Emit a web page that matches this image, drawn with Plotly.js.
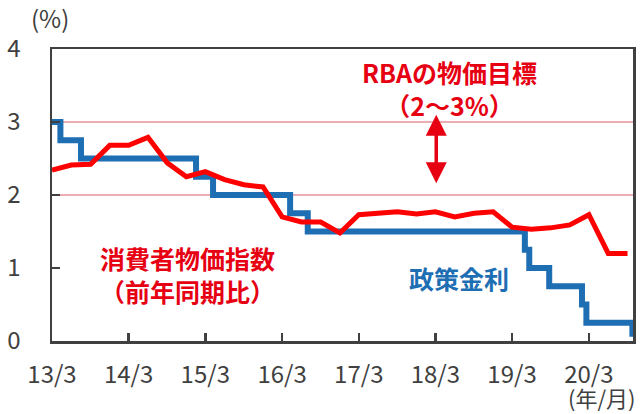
<!DOCTYPE html>
<html>
<head>
<meta charset="utf-8">
<script src="https://cdn.plot.ly/plotly-3.0.1.min.js"></script>
<style>
  html, body { margin: 0; padding: 0; background: #ffffff; }
  #chart { width: 640px; height: 414px; }
</style>
</head>
<body>
<div id="chart"></div>
<script>
// 消費者物価指数（前年同期比, %）四半期
const cpiDates = [
  '2013-03-01', '2013-06-01', '2013-09-01', '2013-12-01',
  '2014-03-01', '2014-06-01', '2014-09-01', '2014-12-01',
  '2015-03-01', '2015-06-01', '2015-09-01', '2015-12-01',
  '2016-03-01', '2016-06-01', '2016-09-01', '2016-12-01',
  '2017-03-01', '2017-06-01', '2017-09-01', '2017-12-01',
  '2018-03-01', '2018-06-01', '2018-09-01', '2018-12-01',
  '2019-03-01', '2019-06-01', '2019-09-01', '2019-12-01',
  '2020-03-01', '2020-06-01', '2020-09-01'
];
const cpiValues = [
  2.34, 2.41, 2.42, 2.68,
  2.68, 2.79, 2.44, 2.25,
  2.32, 2.21, 2.14, 2.11,
  1.70, 1.63, 1.63, 1.48,
  1.73, 1.75, 1.77, 1.74,
  1.77, 1.70, 1.75, 1.77,
  1.56, 1.53, 1.55, 1.59,
  1.73, 1.20, 1.20
];

// 政策金利（%）変更日
const rateDates = [
  '2013-03-01', '2013-04-10', '2013-07-17', '2015-01-16', '2015-04-07',
  '2016-04-08', '2016-07-01', '2019-05-01', '2019-05-22', '2019-08-25',
  '2020-01-28', '2020-02-18', '2020-09-24', '2020-09-27'
];
const rateValues = [
  3.00, 2.75, 2.50, 2.25, 2.00,
  1.75, 1.50, 1.25, 1.00, 0.75,
  0.50, 0.25, 0.10, 0.10
];

// RBAの物価目標レンジ
const targetBand = [2, 3];

const tickDates = ['2013-03-01', '2014-03-01', '2015-03-01', '2016-03-01',
                   '2017-03-01', '2018-03-01', '2019-03-01', '2020-03-01'];
const tickLabels = ['13/3', '14/3', '15/3', '16/3', '17/3', '18/3', '19/3', '20/3'];

const RED = '#ff0000';
const RED_TEXT = '#e60012';
const BLUE = '#1e6eb4';
const AXIS = '#404040';
const FONT = '"Noto Sans CJK JP", "Noto Sans", sans-serif';

const traces = [
  {
    x: rateDates,
    y: rateValues,
    type: 'scatter',
    mode: 'lines',
    name: '政策金利',
    line: { color: BLUE, width: 6, shape: 'hv' },
    hoverinfo: 'skip'
  },
  {
    x: cpiDates,
    y: cpiValues,
    type: 'scatter',
    mode: 'lines',
    name: '消費者物価指数',
    line: { color: RED, width: 5 },
    hoverinfo: 'skip'
  }
];

const shapes = targetBand.map(v => ({
  type: 'line',
  xref: 'paper', x0: 0, x1: 1,
  yref: 'y', y0: v, y1: v,
  line: { color: '#e8909a', width: 1.5 },
  layer: 'below'
}));

const labelFont = (color) => ({ family: FONT, size: 25, color: color });

const annotations = [
  {
    x: '2018-05-08', y: 3.465, xref: 'x', yref: 'y',
    text: '<b>RBAの物価目標</b><br><b>（2～3%）</b>', showarrow: false,
    font: labelFont(RED_TEXT)
  },
  {
    // 両矢印
    x: '2018-03-05', y: 3.1, xref: 'x', yref: 'y',
    ax: '2018-03-05', ay: 2.14, axref: 'x', ayref: 'y',
    text: '', showarrow: true,
    arrowhead: 2, startarrowhead: 2, arrowside: 'end+start',
    arrowsize: 1.2, startarrowsize: 1.2, arrowwidth: 3.5, arrowcolor: RED_TEXT
  },
  {
    x: '2014-12-08', y: 0.905, xref: 'x', yref: 'y',
    text: '<b>消費者物価指数</b><br><b>（前年同期比）</b>', showarrow: false,
    font: labelFont(RED_TEXT)
  },
  {
    x: '2018-06-20', y: 0.86, xref: 'x', yref: 'y',
    text: '<b>政策金利</b>', showarrow: false,
    font: labelFont(BLUE)
  },
  {
    x: 0.0, y: 1, xref: 'paper', yref: 'paper',
    xanchor: 'center', yanchor: 'middle', xshift: -2, yshift: 32,
    text: '(%)', showarrow: false,
    font: { family: FONT, size: 24, color: AXIS }
  },
  {
    x: 1, y: 0, xref: 'paper', yref: 'paper',
    xanchor: 'right', yanchor: 'middle', xshift: 5, yshift: -56,
    text: '(年/月)', showarrow: false,
    font: { family: FONT, size: 22, color: AXIS }
  }
];

const layout = {
  width: 640,
  height: 414,
  margin: { l: 52, r: 7, t: 49, b: 73 },
  paper_bgcolor: '#ffffff',
  plot_bgcolor: '#ffffff',
  showlegend: false,
  font: { family: FONT, color: AXIS },
  xaxis: {
    type: 'date',
    range: ['2013-03-01', '2020-09-27'],
    tickmode: 'array',
    tickvals: tickDates,
    ticktext: tickLabels,
    ticks: 'inside',
    ticklen: 8,
    tickwidth: 2.5,
    tickcolor: AXIS,
    showgrid: false,
    zeroline: false,
    showline: true,
    linecolor: AXIS,
    linewidth: 2.5,
    mirror: true,
    ticklabelstandoff: 11,
    tickfont: { family: FONT, size: 24, color: AXIS }
  },
  yaxis: {
    range: [0, 4],
    tickvals: [0, 1, 2, 3, 4],
    ticks: 'inside',
    ticklen: 8,
    tickwidth: 2.5,
    tickcolor: AXIS,
    showgrid: false,
    zeroline: false,
    showline: true,
    linecolor: AXIS,
    linewidth: 2.5,
    mirror: true,
    ticklabelstandoff: 24,
    tickfont: { family: FONT, size: 24, color: AXIS }
  },
  shapes: shapes,
  annotations: annotations
};

Plotly.newPlot('chart', traces, layout, { displayModeBar: false, staticPlot: true });
</script>
</body>
</html>
